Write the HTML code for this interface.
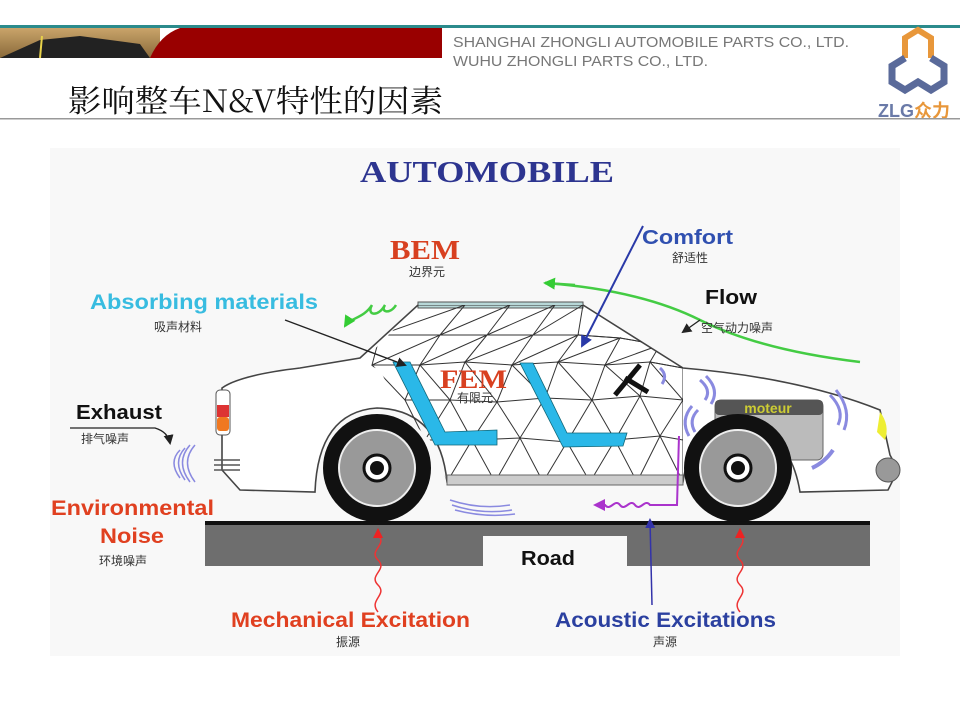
<!DOCTYPE html>
<html><head><meta charset="utf-8"><style>
html,body{margin:0;padding:0;background:#fff;width:960px;height:720px;overflow:hidden}
svg{display:block}
.s{font-family:"Liberation Sans","Noto Sans CJK SC",sans-serif}
.cn{font-family:"Noto Sans CJK SC",sans-serif;font-size:12px;fill:#333}
</style></head><body>
<svg width="960" height="720" viewBox="0 0 960 720" xmlns="http://www.w3.org/2000/svg">
<defs>
<linearGradient id="sky" x1="0" y1="0" x2="0" y2="1"><stop offset="0" stop-color="#c9a46a"/><stop offset="1" stop-color="#8a6a3a"/></linearGradient>
<clipPath id="cab"><polygon points="362,362 418,305 583,305 683,368 683,482 447,482 430,440 400,410 380,370"/></clipPath>
<marker id="ab" markerUnits="userSpaceOnUse" markerWidth="12" markerHeight="12" refX="10" refY="6" orient="auto"><path d="M0,0 L12,6 L0,12z" fill="#2a3aa8"/></marker>
<marker id="ak" markerUnits="userSpaceOnUse" markerWidth="10" markerHeight="10" refX="8" refY="5" orient="auto"><path d="M0,0 L10,5 L0,10z" fill="#222"/></marker>
<marker id="ag" markerUnits="userSpaceOnUse" markerWidth="12" markerHeight="12" refX="10" refY="6" orient="auto"><path d="M0,0 L12,6 L0,12z" fill="#3c3"/></marker>
<marker id="ar" markerUnits="userSpaceOnUse" markerWidth="10" markerHeight="10" refX="8" refY="5" orient="auto"><path d="M0,0 L10,5 L0,10z" fill="#e22"/></marker>
<marker id="ap" markerUnits="userSpaceOnUse" markerWidth="12" markerHeight="12" refX="10" refY="6" orient="auto"><path d="M0,0 L12,6 L0,12z" fill="#a3c"/></marker>
<marker id="av" markerUnits="userSpaceOnUse" markerWidth="10" markerHeight="10" refX="8" refY="5" orient="auto"><path d="M0,0 L10,5 L0,10z" fill="#33a"/></marker>
</defs>
<!-- header -->
<rect x="0" y="25" width="960" height="3" fill="#2b8b8c"/>
<rect x="0" y="28" width="160" height="30" fill="url(#sky)"/>
<path d="M0,58 L40,40 L80,36 L140,44 L150,58z" fill="#222"/>
<path d="M40,58 L42,36" stroke="#e8d24a" stroke-width="2"/>
<path d="M150,58 Q160,35 180,28 L442,28 L442,58z" fill="#990000"/>
<text x="453" y="47" class="s" font-size="14.5" fill="#777" textLength="396" lengthAdjust="spacingAndGlyphs">SHANGHAI ZHONGLI AUTOMOBILE PARTS CO., LTD.</text>
<text x="453" y="66" class="s" font-size="14.5" fill="#777" textLength="255" lengthAdjust="spacingAndGlyphs">WUHU ZHONGLI PARTS CO., LTD.</text>
<path d="M905,58 L905,38 L918,30 L931,38 L931,58" fill="none" stroke="#e8973a" stroke-width="6"/>
<path d="M905,58 L892,66 L892,82 L905,90 L918,82 L931,90 L944,82 L944,66 L931,58" fill="none" stroke="#5a6a9a" stroke-width="7"/>
<text x="878" y="117" class="s" font-size="18" font-weight="bold" fill="#6a7aa8">ZLG<tspan fill="#e8973a" font-family="Noto Sans CJK SC">众力</tspan></text>
<text x="68" y="112" font-family="'Noto Serif CJK SC','Liberation Serif',serif" font-size="31" fill="#111" textLength="375" lengthAdjust="spacingAndGlyphs">影响整车N&amp;V特性的因素</text>
<rect x="0" y="118" width="960" height="1.5" fill="#999"/>
<!-- diagram -->
<rect x="50" y="148" width="850" height="508" fill="#f8f8f8"/>
<text x="360" y="182" font-family="'Liberation Serif',serif" font-weight="bold" font-size="31" fill="#2d3590" textLength="254" lengthAdjust="spacingAndGlyphs">AUTOMOBILE</text>
<!-- road -->
<rect x="205" y="521" width="665" height="45" fill="#6e6e6e"/>
<rect x="205" y="521" width="665" height="4" fill="#111"/>
<rect x="483" y="536" width="144" height="32" fill="#f8f8f8"/>
<text x="521" y="565" class="s" font-weight="bold" font-size="20" fill="#111" textLength="54" lengthAdjust="spacingAndGlyphs">Road</text>
<!-- green flow -->
<path d="M545,283 Q640,290 700,320 Q760,350 860,362" fill="none" stroke="#4c4" stroke-width="2.5"/>
<path d="M575,285 L545,283" stroke="#4c4" stroke-width="2.5" marker-end="url(#ag)"/>
<path d="M396,305 C390,315 380,312 385,305 C378,318 366,315 372,305 C364,318 350,318 345,326" fill="none" stroke="#4c4" stroke-width="2.5" marker-end="url(#ag)"/>
<!-- car body -->
<g fill="#fff" stroke="#444" stroke-width="1.6">
<path d="M222,388 Q240,375 300,368 L360,358 L418,305 L583,305 L683,368 Q800,378 880,410 L890,455 L898,470 L888,490 L800,492 Q790,430 738,425 Q690,428 683,482 L447,482 Q440,410 377,408 Q318,412 315,492 L240,490 L222,470z"/>
</g>
<rect x="418" y="302" width="165" height="6" fill="#b8d8d8" stroke="#555"/>
<!-- mesh -->
<g clip-path="url(#cab)" fill="none" stroke="#333" stroke-width="1">
<polyline points="418,305 465,305 510,305 555,305 583,305"/>
<polyline points="380,335 440,335 487,335 533,335 578,335 620,338 660,345"/>
<polyline points="372,365 420,365 465,362 512,365 558,362 605,365 650,362 683,368"/>
<polyline points="405,400 450,400 497,402 545,398 592,400 640,396 683,400"/>
<polyline points="425,440 472,440 520,438 567,442 615,440 660,436 683,440"/>
<polyline points="418,305 380,335 465,305 440,335 510,305 487,335 555,305 533,335 583,305 578,335 620,338 660,345"/>
<polyline points="380,335 372,365 440,335 420,365 487,335 465,362 533,335 512,365 578,335 558,362 620,338 605,365 660,345 650,362 683,368"/>
<polyline points="372,365 405,400 420,365 450,400 465,362 497,402 512,365 545,398 558,362 592,400 605,365 640,396 650,362 683,400"/>
<polyline points="405,400 425,440 450,400 472,440 497,402 520,438 545,398 567,442 592,400 615,440 640,396 660,436 683,400"/>
<polyline points="425,440 447,482 472,440 495,482 520,438 543,482 567,442 590,482 615,440 637,482 660,436 683,482"/>
<line x1="683" y1="368" x2="683" y2="482"/>
</g>
<!-- blue pillars -->
<polygon points="393,362 410,362 445,432 497,430 497,445 435,445" fill="#2ab8e8" stroke="#167" stroke-width="0.8"/>
<polygon points="520,363 533,363 567,433 627,433 623,446 563,447" fill="#2ab8e8" stroke="#167" stroke-width="0.8"/>
<path d="M615,395 L640,365 M625,378 L648,392" stroke="#111" stroke-width="5"/>
<text x="440" y="388" font-family="'Liberation Serif',serif" font-weight="bold" font-size="26" fill="#d84020" textLength="67" lengthAdjust="spacingAndGlyphs">FEM</text>
<text x="475" y="402" text-anchor="middle" class="cn">有限元</text>
<!-- rear lamp -->
<rect x="216" y="390" width="14" height="45" rx="4" fill="#fff" stroke="#555"/>
<rect x="217" y="405" width="12" height="12" fill="#d33"/>
<rect x="217" y="417" width="12" height="14" rx="3" fill="#f07820"/>
<path d="M214,460 L240,460 M214,465 L240,465 M214,470 L240,470" stroke="#555" stroke-width="1.5"/>
<!-- sill -->
<rect x="447" y="475" width="236" height="10" fill="#ccc" stroke="#666"/>
<!-- engine -->
<rect x="715" y="400" width="108" height="60" rx="6" fill="#bbb" stroke="#666"/>
<rect x="715" y="400" width="108" height="15" rx="4" fill="#555"/>
<text x="768" y="413" text-anchor="middle" class="s" font-weight="bold" font-size="14" fill="#cc3">moteur</text>
<path d="M880,412 Q890,425 885,440 L877,432z" fill="#ee3"/>
<circle cx="888" cy="470" r="12" fill="#999" stroke="#555"/>
<!-- wheels -->
<g>
<circle cx="377" cy="468" r="54" fill="#111"/><circle cx="377" cy="468" r="38" fill="#999" stroke="#eee" stroke-width="2"/>
<circle cx="377" cy="468" r="13" fill="#fff" stroke="#111" stroke-width="3"/><circle cx="377" cy="468" r="7" fill="#111"/>
<circle cx="738" cy="468" r="54" fill="#111"/><circle cx="738" cy="468" r="38" fill="#999" stroke="#eee" stroke-width="2"/>
<circle cx="738" cy="468" r="13" fill="#fff" stroke="#111" stroke-width="3"/><circle cx="738" cy="468" r="7" fill="#111"/>
</g>
<!-- sound waves -->
<g fill="none" stroke="#8a8ae0" stroke-width="1.5">
<path d="M195,445 Q180,462 195,482 M190,445 Q175,462 190,482 M185,448 Q172,462 185,480 M180,450 Q168,462 180,478"/>
<path d="M450,500 Q480,510 510,505 M452,505 Q482,515 512,510 M455,510 Q485,518 515,514"/>
<path d="M700,380 Q712,390 705,400 M706,376 Q720,390 711,404" stroke-width="3"/>
<path d="M698,410 Q688,420 695,432 M692,406 Q680,420 689,436" stroke-width="3"/>
<path d="M830,395 Q845,410 838,425 M836,390 Q852,410 844,430" stroke-width="3"/>
<path d="M833,450 Q825,462 812,468" stroke-width="4"/>
<path d="M660,368 Q668,375 662,384" stroke-width="3"/>
</g>
<!-- arrows -->
<line x1="643" y1="226" x2="582" y2="346" stroke="#2a3aa8" stroke-width="2" marker-end="url(#ab)"/>
<line x1="285" y1="320" x2="405" y2="365" stroke="#222" stroke-width="1.3" marker-end="url(#ak)"/>
<line x1="700" y1="320" x2="683" y2="332" stroke="#222" stroke-width="1.3" marker-end="url(#ak)"/>
<path d="M70,428 L155,428 Q168,432 170,443" fill="none" stroke="#222" stroke-width="1.3" marker-end="url(#ak)"/>
<path d="M378,612 C368,600 388,595 378,585 C368,575 388,570 378,560 C368,550 388,545 378,535 L378,530" fill="none" stroke="#e33" stroke-width="1.5" marker-end="url(#ar)"/>
<path d="M740,612 C730,600 750,595 740,585 C730,575 750,570 740,560 C730,550 750,545 740,535 L740,530" fill="none" stroke="#e33" stroke-width="1.5" marker-end="url(#ar)"/>
<path d="M652,605 L650,520" stroke="#33a" stroke-width="1.5" marker-end="url(#av)"/>
<path d="M679,436 L677,505 L650,505 C645,498 640,512 635,505 C630,498 625,512 620,505 C615,498 610,512 605,505 L595,505" fill="none" stroke="#a3c" stroke-width="2" marker-end="url(#ap)"/>
<!-- labels -->
<text x="390" y="259" font-family="'Liberation Serif',serif" font-weight="bold" font-size="27" fill="#d84020" textLength="70" lengthAdjust="spacingAndGlyphs">BEM</text>
<text x="427" y="276" text-anchor="middle" class="cn">边界元</text>
<text x="642" y="244" class="s" font-weight="bold" font-size="20" fill="#3050b0" textLength="91" lengthAdjust="spacingAndGlyphs">Comfort</text>
<text x="690" y="262" text-anchor="middle" class="cn">舒适性</text>
<text x="90" y="309" class="s" font-weight="bold" font-size="21" fill="#38bce0" textLength="228" lengthAdjust="spacingAndGlyphs">Absorbing materials</text>
<text x="178" y="331" text-anchor="middle" class="cn">吸声材料</text>
<text x="705" y="304" class="s" font-weight="bold" font-size="20" fill="#111" textLength="52" lengthAdjust="spacingAndGlyphs">Flow</text>
<text x="737" y="332" text-anchor="middle" class="cn">空气动力噪声</text>
<text x="76" y="419" class="s" font-weight="bold" font-size="20" fill="#111" textLength="86" lengthAdjust="spacingAndGlyphs">Exhaust</text>
<text x="105" y="443" text-anchor="middle" class="cn">排气噪声</text>
<text x="51" y="515" class="s" font-weight="bold" font-size="21" fill="#e04020" textLength="163" lengthAdjust="spacingAndGlyphs">Environmental</text>
<text x="100" y="543" class="s" font-weight="bold" font-size="21" fill="#e04020" textLength="64" lengthAdjust="spacingAndGlyphs">Noise</text>
<text x="123" y="565" text-anchor="middle" class="cn">环境噪声</text>
<text x="231" y="627" class="s" font-weight="bold" font-size="21" fill="#e04020" textLength="239" lengthAdjust="spacingAndGlyphs">Mechanical Excitation</text>
<text x="348" y="646" text-anchor="middle" class="cn">振源</text>
<text x="555" y="627" class="s" font-weight="bold" font-size="21" fill="#2b40a0" textLength="221" lengthAdjust="spacingAndGlyphs">Acoustic Excitations</text>
<text x="665" y="646" text-anchor="middle" class="cn">声源</text>
</svg>
</body></html>
